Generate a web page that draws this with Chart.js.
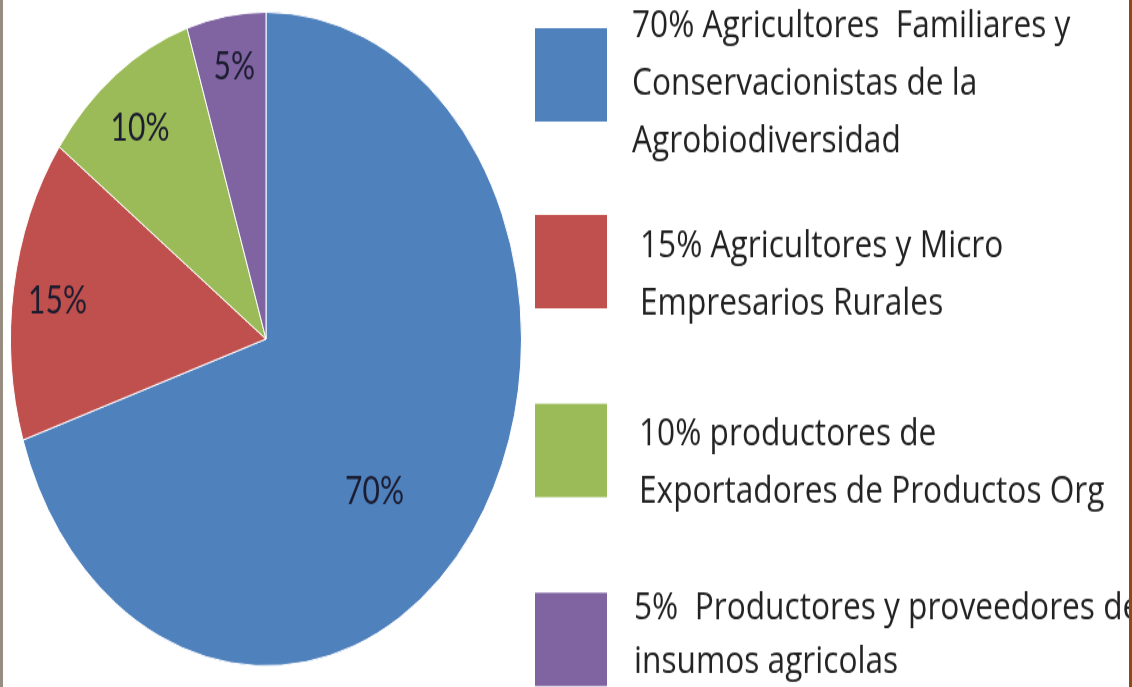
<!DOCTYPE html>
<html lang="es">
<head>
<meta charset="UTF-8">
<title>Distribución de productores</title>
<script src="https://cdn.jsdelivr.net/npm/chart.js"></script>
<style>
  html, body { margin: 0; padding: 0; background: #fff; overflow: hidden; }
  #marco { position: relative; width: 1132px; height: 687px; overflow: hidden; background: #fff; }
  /* el original está estirado en vertical: se dibuja a 537px de alto y se escala */
  #lienzo { position: absolute; left: 0; top: 0; width: 1132px; height: 537px;
            transform: scaleY(1.2793); transform-origin: 0 0; }
  .borde-izq { position: absolute; left: 0; top: 0; width: 3px; height: 687px; background: #978d81; }
  .borde-der { position: absolute; right: 0; top: 0; width: 3px; height: 687px; background: #8f4a14; }
</style>
</head>
<body>
<div id="marco">
  <div id="lienzo"><canvas id="grafico"></canvas></div>
  <div class="borde-izq"></div>
  <div class="borde-der"></div>
</div>

<script>
  // datos del gráfico
  const categorias = [
    ['70% Agricultores  Familiares y', 'Conservacionistas de la', 'Agrobiodiversidad'],
    ['15% Agricultores y Micro', 'Empresarios Rurales'],
    ['10% productores de', 'Exportadores de Productos Org'],
    ['5%  Productores y proveedores de', 'insumos agricolas']
  ];
  const porcentajes = [70, 15, 10, 5];
  const etiquetas = ['70%', '15%', '10%', '5%'];
  const colores = ['#4f81bd', '#c0504d', '#9bbb59', '#8064a2'];

  // etiquetas dentro de cada porción
  const etiquetasPorcion = {
    id: 'etiquetasPorcion',
    afterDatasetsDraw(chart, args, opts) {
      const ctx = chart.ctx;
      const meta = chart.getDatasetMeta(0);
      ctx.save();
      ctx.font = opts.font;
      ctx.fillStyle = opts.color;
      ctx.textAlign = 'center';
      ctx.textBaseline = 'middle';
      meta.data.forEach((arc, i) => {
        const p = arc.getProps(['x', 'y', 'startAngle', 'endAngle', 'outerRadius'], true);
        const ang = (p.startAngle + p.endAngle) / 2 + (opts.giro[i] || 0) * Math.PI / 180;
        const r = p.outerRadius * opts.radio[i];
        ctx.fillText(etiquetas[i], p.x + Math.cos(ang) * r, p.y + Math.sin(ang) * r);
      });
      ctx.restore();
    }
  };

  // leyenda a la derecha con cajas grandes y texto en varias líneas
  const leyendaLateral = {
    id: 'leyendaLateral',
    afterDraw(chart, args, opts) {
      const ctx = chart.ctx;
      const fondo = chart.data.datasets[0].backgroundColor;
      ctx.save();
      ctx.font = opts.font;
      ctx.textBaseline = 'alphabetic';
      chart.data.labels.forEach((lineas, i) => {
        const it = opts.items[i];
        ctx.fillStyle = fondo[i];
        ctx.fillRect(opts.cajaX, it.arriba, opts.cajaAncho, opts.cajaAlto);
        ctx.fillStyle = opts.color;
        lineas.forEach((t, j) => {
          ctx.save();
          ctx.translate(it.x, it.base + j * it.salto);
          ctx.scale(opts.escalaX, 1);
          ctx.fillText(t, 0, 0);
          ctx.restore();
        });
      });
      ctx.restore();
    }
  };

  function dibujarGrafico() {
    const ctx = document.getElementById('grafico').getContext('2d');
    new Chart(ctx, {
      type: 'pie',
      data: {
        labels: categorias,
        datasets: [{
          data: porcentajes,
          backgroundColor: colores,
          borderColor: '#ffffff',
          borderWidth: 1
        }]
      },
      options: {
        responsive: true,
        maintainAspectRatio: false,
        animation: false,
        layout: { padding: { left: 10, top: 9, right: 610, bottom: 16 } },
        plugins: {
          legend: { display: false },
          tooltip: { enabled: false },
          etiquetasPorcion: {
            font: '30px Lato',
            color: '#1c1c30',
            radio: [0.63, 0.824, 0.81, 0.84],
            giro: [11.6, -1, -1.5, 0.5]
          },
          leyendaLateral: {
            font: '30px "Open Sans"',
            color: '#222222',
            escalaX: 1.055,
            cajaX: 535,
            cajaAncho: 72,
            cajaAlto: 73,
            items: [
              { arriba: 22, x: 632, base: 29, salto: 44.9 },
              { arriba: 168, x: 640, base: 200.8, salto: 45.3 },
              { arriba: 315.6, x: 639, base: 347.7, salto: 45.3 },
              { arriba: 463.3, x: 634, base: 484.4, salto: 41.4 }
            ]
          }
        }
      },
      plugins: [etiquetasPorcion, leyendaLateral]
    });
  }

  window.addEventListener('load', dibujarGrafico);
</script>
</body>
</html>
